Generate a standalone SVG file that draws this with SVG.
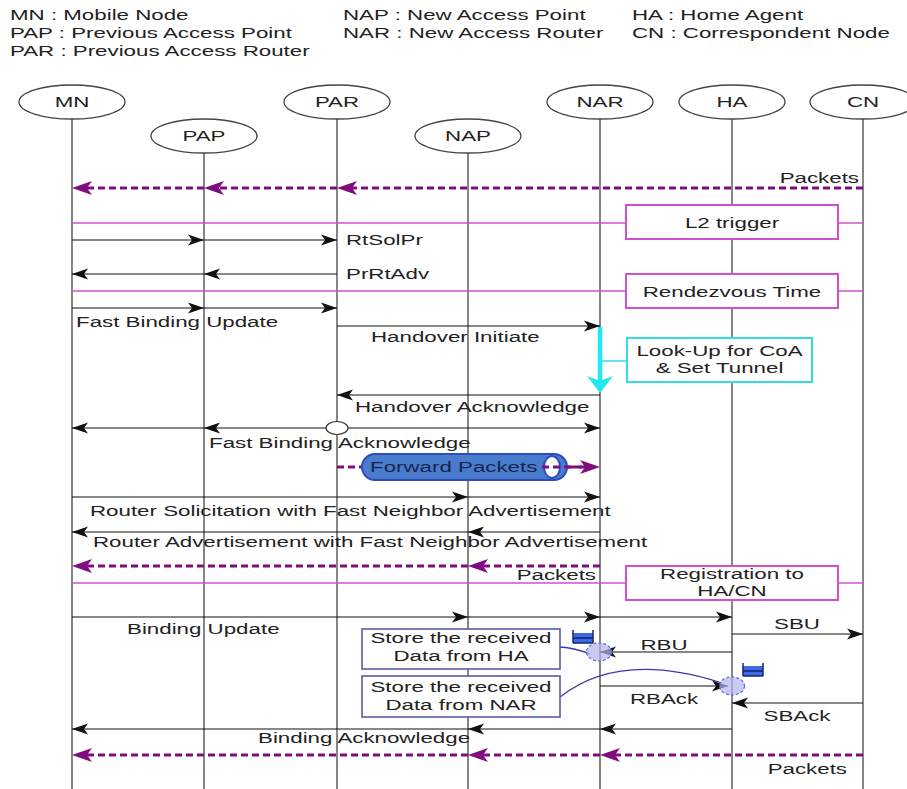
<svg xmlns="http://www.w3.org/2000/svg" width="907" height="789" viewBox="0 0 907 789">
<style>
text{font-family:"Liberation Sans",Arial,Helvetica,sans-serif;font-size:15.5px;fill:#222}
.m{text-anchor:middle}
.e{text-anchor:end}
.fp{fill:#15254d}
.life{stroke:#444;stroke-width:1.3;fill:none}
.hdr{fill:#fff;stroke:#444;stroke-width:1.3}
.msg{stroke:#111;stroke-width:1.2;fill:none;marker-end:url(#ah)}
.pk{stroke:#800c80;stroke-width:3;stroke-dasharray:7 4;fill:none;marker-end:url(#ph)}
.mag{stroke:#d24fd2;stroke-width:1.5;fill:none}
.magbox{fill:#fff;stroke:#d24fd2;stroke-width:2}
.cybox{fill:#fff;stroke:#33dde6;stroke-width:2}
.stbox{fill:#fff;stroke:#5a5aa8;stroke-width:1.6}
.blink{stroke:#3a3aa8;stroke-width:1.3;fill:none}
.cir{fill:#b4b4ee;fill-opacity:0.7;stroke:#5a6ad8;stroke-width:1.2;stroke-dasharray:3 2}
</style>
<defs>
<marker id="ah" viewBox="-20 -8 22 16" markerWidth="22" markerHeight="16" refX="0" refY="0" orient="auto" markerUnits="userSpaceOnUse">
<path d="M0,0 L-16,-5.5 L-12,0 L-16,5.5 Z" fill="#111"/>
</marker>
<marker id="ph" viewBox="-12 -9 26 18" markerWidth="26" markerHeight="18" refX="0" refY="0" orient="auto" markerUnits="userSpaceOnUse">
<path d="M12,0 L-8,-7 L-3,0 L-8,7 Z" fill="#800c80"/>
</marker>
<g id="stack">
<rect x="0" y="2" width="20" height="10" fill="#3a6be0"/>
<path d="M0,7 H20 M0,12 H20 M0,-1 V12 M20,-1 V12" stroke="#16237a" stroke-width="1.5" fill="none"/>
</g>
</defs>
<rect width="907" height="789" fill="#fff"/>

<g id="legend">
<text transform="translate(10,20) scale(1.44,1)">MN : Mobile Node</text>
<text transform="translate(10,38) scale(1.44,1)">PAP : Previous Access Point</text>
<text transform="translate(10,56) scale(1.44,1)">PAR : Previous Access Router</text>
<text transform="translate(343,20) scale(1.44,1)">NAP : New Access Point</text>
<text transform="translate(343,38) scale(1.44,1)">NAR : New Access Router</text>
<text transform="translate(632,20) scale(1.44,1)">HA : Home Agent</text>
<text transform="translate(632,38) scale(1.44,1)">CN : Correspondent Node</text>
</g>

<g id="lifelines">
<line class="life" x1="72" y1="119" x2="72" y2="789"/>
<line class="life" x1="204" y1="153" x2="204" y2="789"/>
<line class="life" x1="337" y1="119" x2="337" y2="789"/>
<line class="life" x1="468" y1="153" x2="468" y2="789"/>
<line class="life" x1="600" y1="119" x2="600" y2="789"/>
<line class="life" x1="732" y1="119" x2="732" y2="789"/>
<line class="life" x1="863" y1="119" x2="863" y2="789"/>
</g>

<g id="node-MN"><ellipse class="hdr" cx="72" cy="102" rx="53" ry="17"/><text class="m" transform="translate(72,107) scale(1.44,1)">MN</text></g>
<g id="node-PAP"><ellipse class="hdr" cx="204" cy="136" rx="53" ry="17"/><text class="m" transform="translate(204,141) scale(1.44,1)">PAP</text></g>
<g id="node-PAR"><ellipse class="hdr" cx="337" cy="102" rx="53" ry="17"/><text class="m" transform="translate(337,107) scale(1.44,1)">PAR</text></g>
<g id="node-NAP"><ellipse class="hdr" cx="468" cy="136" rx="53" ry="17"/><text class="m" transform="translate(468,141) scale(1.44,1)">NAP</text></g>
<g id="node-NAR"><ellipse class="hdr" cx="600" cy="102" rx="53" ry="17"/><text class="m" transform="translate(600,107) scale(1.44,1)">NAR</text></g>
<g id="node-HA"><ellipse class="hdr" cx="732" cy="102" rx="53" ry="17"/><text class="m" transform="translate(732,107) scale(1.44,1)">HA</text></g>
<g id="node-CN"><ellipse class="hdr" cx="863" cy="102" rx="53" ry="17"/><text class="m" transform="translate(863,107) scale(1.44,1)">CN</text></g>

<g id="connectors">
<line class="pk" x1="863" y1="188" x2="349" y2="188"/>
<line class="pk" x1="337" y1="188" x2="216" y2="188"/>
<line class="pk" x1="204" y1="188" x2="84" y2="188"/>
<line class="mag" x1="72" y1="223" x2="863" y2="223"/>
<line class="mag" x1="72" y1="291" x2="863" y2="291"/>
<line class="mag" x1="72" y1="583" x2="863" y2="583"/>
<line class="msg" x1="72" y1="240" x2="204" y2="240"/>
<line class="msg" x1="204" y1="240" x2="337" y2="240"/>
<line class="msg" x1="337" y1="274" x2="204" y2="274"/>
<line class="msg" x1="204" y1="274" x2="72" y2="274"/>
<line class="msg" x1="72" y1="308" x2="204" y2="308"/>
<line class="msg" x1="204" y1="308" x2="337" y2="308"/>
<line class="msg" x1="337" y1="326" x2="600" y2="326"/>
<rect x="597.8" y="327" width="4.5" height="54" fill="#22e8f0"/>
<path d="M600,393 L587,376 L600,381 L613,376 Z" fill="#22e8f0"/>
<line x1="602" y1="361" x2="627" y2="361" stroke="#33dde6" stroke-width="1.5"/>
<line class="msg" x1="600" y1="395" x2="337" y2="395"/>
<line class="msg" x1="337" y1="428" x2="204" y2="428"/>
<line class="msg" x1="204" y1="428" x2="72" y2="428"/>
<line class="msg" x1="337" y1="428" x2="600" y2="428"/>
<line class="pk" x1="337" y1="467" x2="588" y2="467"/>
<line class="msg" x1="72" y1="497" x2="468" y2="497"/>
<line class="msg" x1="468" y1="497" x2="600" y2="497"/>
<line class="msg" x1="600" y1="532" x2="468" y2="532"/>
<line class="msg" x1="468" y1="532" x2="72" y2="532"/>
<line class="pk" x1="600" y1="566" x2="480" y2="566"/>
<line class="pk" x1="468" y1="566" x2="84" y2="566"/>
<line class="msg" x1="72" y1="617" x2="468" y2="617"/>
<line class="msg" x1="468" y1="617" x2="600" y2="617"/>
<line class="msg" x1="600" y1="617" x2="732" y2="617"/>
<line class="msg" x1="732" y1="634" x2="863" y2="634"/>
<line class="msg" x1="732" y1="652" x2="600" y2="652"/>
<line class="msg" x1="600" y1="686" x2="728" y2="686"/>
<line class="msg" x1="863" y1="703" x2="732" y2="703"/>
<line class="msg" x1="732" y1="729" x2="600" y2="729"/>
<line class="msg" x1="600" y1="729" x2="468" y2="729"/>
<line class="msg" x1="468" y1="729" x2="72" y2="729"/>
<line class="pk" x1="863" y1="755" x2="612" y2="755"/>
<line class="pk" x1="600" y1="755" x2="480" y2="755"/>
<line class="pk" x1="468" y1="755" x2="84" y2="755"/>
<path class="blink" d="M560,647 Q575,648 590,654"/>
<path class="blink" d="M560,697 Q620,650 722,683"/>
</g>

<g id="fba-point"><ellipse cx="337" cy="428" rx="11" ry="6.5" fill="#fff" stroke="#333" stroke-width="1.2"/></g>

<g id="box-l2">
<rect class="magbox" x="626" y="205" width="212" height="34"/>
<text class="m" transform="translate(732,228) scale(1.44,1)">L2 trigger</text>
</g>
<g id="box-rendezvous">
<rect class="magbox" x="626" y="274" width="212" height="34"/>
<text class="m" transform="translate(732,297) scale(1.44,1)">Rendezvous Time</text>
</g>
<g id="box-lookup">
<rect class="cybox" x="627" y="338" width="185" height="44"/>
<text class="m" transform="translate(719.5,356) scale(1.44,1)">Look-Up for CoA</text>
<text class="m" transform="translate(719.5,373) scale(1.44,1)">&amp; Set Tunnel</text>
</g>
<g id="box-forward">
<rect x="362" y="454" width="205" height="26" rx="13" fill="#4a7cce" stroke="#2c4cc0" stroke-width="2"/>
<ellipse cx="552" cy="467" rx="8" ry="11" fill="#fff" stroke="#2c4cc0" stroke-width="2"/>
<line x1="542" y1="467" x2="588" y2="467" stroke="#800c80" stroke-width="3" stroke-dasharray="7 4"/>
<text class="fp" transform="translate(370,472) scale(1.44,1)">Forward Packets</text>
</g>
<g id="box-registration">
<rect class="magbox" x="626" y="566" width="212" height="34"/>
<text class="m" transform="translate(732,579) scale(1.44,1)">Registration to</text>
<text class="m" transform="translate(732,596) scale(1.44,1)">HA/CN</text>
</g>
<g id="box-store-ha">
<rect class="stbox" x="362" y="629" width="198" height="40"/>
<text class="m" transform="translate(461,643) scale(1.44,1)">Store the received</text>
<text class="m" transform="translate(461,661) scale(1.44,1)">Data from HA</text>
</g>
<g id="box-store-nar">
<rect class="stbox" x="362" y="676" width="198" height="41"/>
<text class="m" transform="translate(461,692) scale(1.44,1)">Store the received</text>
<text class="m" transform="translate(461,710) scale(1.44,1)">Data from NAR</text>
</g>
<g id="buffer-nar">
<use href="#stack" x="573" y="631"/>
<ellipse class="cir" cx="599" cy="652" rx="12.5" ry="9"/>
</g>
<g id="buffer-ha">
<use href="#stack" x="743" y="664"/>
<ellipse class="cir" cx="732" cy="686" rx="12.5" ry="9"/>
</g>

<g id="labels">
<text class="e" transform="translate(859,183) scale(1.44,1)">Packets</text>
<text transform="translate(346,245) scale(1.44,1)">RtSolPr</text>
<text transform="translate(346,279) scale(1.44,1)">PrRtAdv</text>
<text transform="translate(76,327) scale(1.44,1)">Fast Binding Update</text>
<text transform="translate(371,342) scale(1.44,1)">Handover Initiate</text>
<text transform="translate(355,412) scale(1.44,1)">Handover Acknowledge</text>
<text transform="translate(209,448) scale(1.44,1)">Fast Binding Acknowledge</text>
<text transform="translate(90,516) scale(1.44,1)">Router Solicitation with Fast Neighbor Advertisement</text>
<text transform="translate(93,547) scale(1.44,1)">Router Advertisement with Fast Neighbor Advertisement</text>
<text class="e" transform="translate(596,580) scale(1.44,1)">Packets</text>
<text transform="translate(127,634) scale(1.44,1)">Binding Update</text>
<text class="m" transform="translate(797,629) scale(1.44,1)">SBU</text>
<text class="m" transform="translate(664,650) scale(1.44,1)">RBU</text>
<text class="m" transform="translate(664,704) scale(1.44,1)">RBAck</text>
<text class="m" transform="translate(797,721) scale(1.44,1)">SBAck</text>
<text transform="translate(258,743) scale(1.44,1)">Binding Acknowledge</text>
<text class="e" transform="translate(847,774) scale(1.44,1)">Packets</text>
</g>
</svg>
